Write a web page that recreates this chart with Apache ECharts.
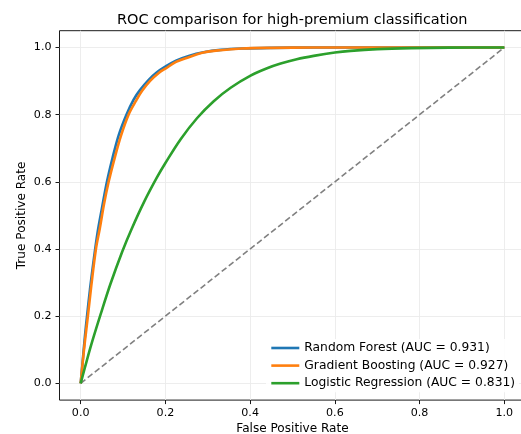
<!DOCTYPE html>
<html>
<head>
<meta charset="utf-8">
<script src="https://cdn.jsdelivr.net/npm/echarts@6/dist/echarts.min.js"></script>
<style>html,body{margin:0;padding:0;background:#fff}#c{width:521px;height:434px}</style>
</head>
<body>
<div id="c"></div>
<script>
const titleText = 'ROC comparison for high-premium classification';
const xLabel = 'False Positive Rate';
const yLabel = 'True Positive Rate';
const tickValues = [0, 0.2, 0.4, 0.6, 0.8, 1.0];
const seriesNames = ['Random Forest (AUC = 0.931)', 'Gradient Boosting (AUC = 0.927)', 'Logistic Regression (AUC = 0.831)'];
const rfPoints = [[0,0],[0.005,0.07],[0.01,0.14],[0.015,0.2],[0.022,0.28],[0.03,0.36],[0.04,0.45],[0.05,0.52],[0.062,0.6],[0.075,0.67],[0.09,0.74],[0.108,0.8],[0.125,0.845],[0.14,0.873],[0.16,0.903],[0.18,0.926],[0.2,0.943],[0.225,0.961],[0.255,0.975],[0.29,0.986],[0.33,0.993],[0.38,0.997],[0.45,0.999],[0.55,1.0],[1.0,1.0]];
const gbPoints = [[0,0],[0.005,0.065],[0.01,0.125],[0.017,0.2],[0.025,0.29],[0.036,0.4],[0.045,0.46],[0.055,0.533],[0.066,0.6],[0.08,0.67],[0.095,0.737],[0.113,0.8],[0.13,0.84],[0.145,0.871],[0.165,0.902],[0.185,0.925],[0.2,0.937],[0.225,0.957],[0.255,0.971],[0.29,0.985],[0.33,0.992],[0.38,0.997],[0.45,0.999],[0.55,1.0],[1.0,1.0]];
const lrPoints = [[0,0],[0.01,0.047],[0.025,0.115],[0.047,0.205],[0.07,0.295],[0.098,0.392],[0.12,0.459],[0.15,0.541],[0.18,0.613],[0.2,0.656],[0.236,0.727],[0.275,0.79],[0.314,0.84],[0.354,0.88],[0.401,0.916],[0.44,0.938],[0.472,0.952],[0.51,0.965],[0.55,0.975],[0.6,0.985],[0.637,0.99],[0.7,0.995],[0.78,0.998],[0.87,0.9995],[1.0,1.0]];
const chancePoints = [[0,0],[1,1]];

const FONT = 'DejaVu Sans';
const chart = echarts.init(document.getElementById('c'), null, {renderer: 'canvas'});
const axisCommon = {
  type: 'value', min: -0.05, max: 1.05,
  axisLine: {show: false, onZero: false},
  axisTick: {show: true, inside: false, length: 4, lineStyle: {color: '#000', width: 0.9}, customValues: tickValues},
  axisLabel: {show: true, color: '#000', fontFamily: FONT, fontSize: 11.1, margin: 8, customValues: tickValues, formatter: v => v.toFixed(1)},
  splitLine: {show: true, lineStyle: {color: '#ebebeb', width: 0.9}},
  nameLocation: 'middle',
  nameMoveOverlap: false,
  nameTextStyle: {color: '#000', fontFamily: FONT, fontSize: 12.1}
};
const lineSeries = (name, data, color) => ({
  name, type: 'line', data, symbol: 'none', smooth: 0.35,
  lineStyle: {color, width: 2.6}, itemStyle: {color}, z: 3
});
chart.setOption({
  animation: false,
  backgroundColor: '#fff',
  title: {text: titleText, left: 112, top: 8, textStyle: {color: '#000', fontFamily: FONT, fontSize: 14.5, fontWeight: 'normal'}},
  grid: {left: 59.5, top: 30.7, right: -4.5, bottom: 33.9, containLabel: false, outerBoundsMode: 'none', show: true, borderColor: '#000', borderWidth: 0.9, backgroundColor: 'transparent'},
  xAxis: Object.assign({}, axisCommon, {name: xLabel, nameGap: 23}),
  yAxis: Object.assign({}, axisCommon, {name: yLabel, nameGap: 32}),
  legend: {
    orient: 'vertical', left: 266, top: 339, itemWidth: 28, itemHeight: 14, itemGap: 5.6,
    textStyle: {color: '#000', fontFamily: FONT, fontSize: 12.3},
    itemStyle: {opacity: 0},
    lineStyle: {width: 2.6},
    data: seriesNames,
    backgroundColor: 'rgba(255,255,255,0.85)', padding: [3, 4, 3, 4]
  },
  series: [
    {name: 'chance', type: 'line', data: chancePoints, symbol: 'none', lineStyle: {color: '#808080', width: 1.6, type: [6, 3]}, z: 2, silent: true},
    lineSeries(seriesNames[0], rfPoints, '#1f77b4'),
    lineSeries(seriesNames[1], gbPoints, '#ff7f0e'),
    lineSeries(seriesNames[2], lrPoints, '#2ca02c')
  ]
});
</script>
</body>
</html>
